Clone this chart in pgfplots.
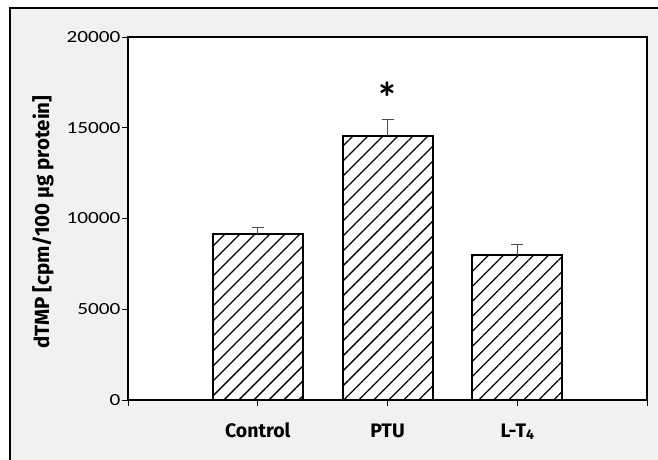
\documentclass[border=0pt]{standalone}
\usepackage{fontspec}
\setmainfont{Carlito}
\newfontfamily\tickfont[FakeStretch=1.25]{Carlito}
\newfontfamily\labfont{Fira Sans}
\newfontfamily\astfont{Carlito}
\usepackage{pgfplots}
\pgfplotsset{compat=1.18}
\usetikzlibrary{patterns.meta}
\definecolor{bggray}{HTML}{F1F1F1}
\begin{document}
\begin{tikzpicture}[x=1pt,y=1pt]
\useasboundingbox (0,0) rectangle (658,459);
\fill[bggray] (10,-10) rectangle (670,451);
\draw[line width=2.2pt] (10,-10) -- (10,451) -- (670,451);
\begin{axis}[
  at={(128pt,59pt)}, anchor=south west,
  scale only axis, width=519pt, height=363pt,
  xmin=0, xmax=4, ymin=0, ymax=20000,
  axis background/.style={fill=white},
  xtick={0,1,2,3,4},
  xticklabels={,Control,PTU,{L-T\raisebox{-0.25ex}{\fontsize{14}{14}\selectfont 4}},},
  ytick={0,5000,10000,15000,20000},
  scaled y ticks=false,
  /pgf/number format/assume math mode=true,
  yticklabel={\pgfmathprintnumber[1000 sep={}]{\tick}},
  tick align=outside,
  xtick pos=bottom, ytick pos=left,
  major tick length=6pt,
  tick style={line width=1pt, black},
  axis line style={line width=1.8pt},
  yticklabel style={font=\tickfont\fontsize{17}{17}\selectfont, anchor=east, xshift=2pt},
  xticklabel style={font=\labfont\bfseries\fontsize{19.5}{19.5}\selectfont, anchor=base, yshift=-31pt},
  ylabel={dTMP [cpm/100 µg protein]},
  ylabel style={font=\labfont\bfseries\fontsize{20.5}{20.5}\selectfont, at={(axis description cs:-0.164,0.49)}, anchor=center, rotate=0},
  clip=false,
]
\addplot[ybar, bar width=90pt, draw=black, line width=2pt, fill=white,
  postaction={pattern={Lines[angle=45,distance=10.6pt,line width=1.3pt]}},
  error bars/.cd, y dir=plus, y explicit,
  error bar style={line width=0.9pt, black!70},
  error mark options={rotate=90, mark size=6pt, line width=0.9pt, black!70}]
  coordinates {(1,9150) +- (0,380) (2,14550) +- (0,930) (3,7990) +- (0,600)};
\node[font=\astfont\bfseries\fontsize{44}{44}\selectfont, anchor=base] at (axis cs:2,15800) {*};
\end{axis}
\end{tikzpicture}
\end{document}
